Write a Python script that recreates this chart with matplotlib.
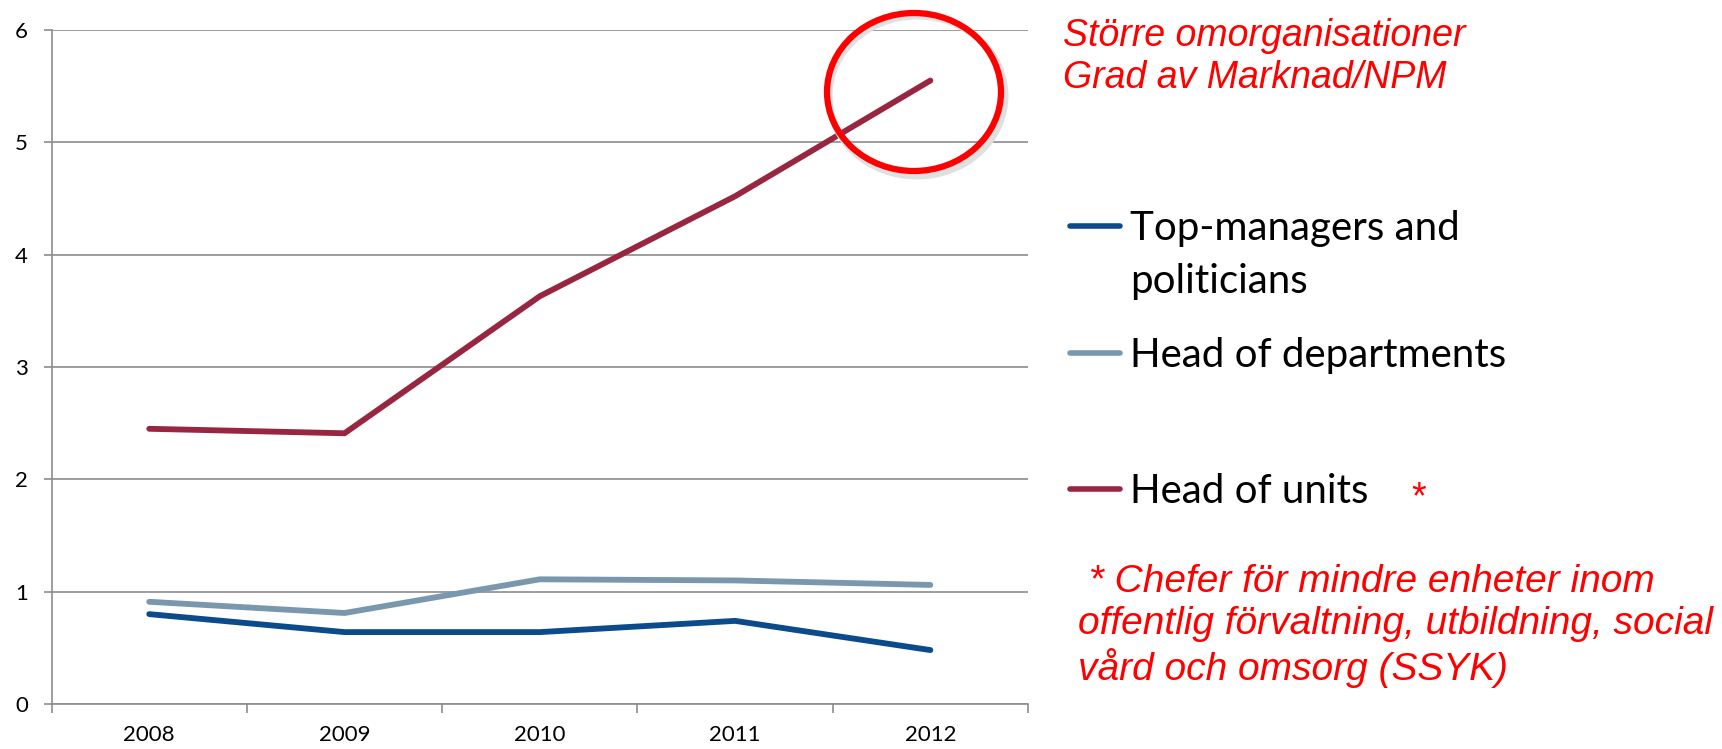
import matplotlib.pyplot as plt
import matplotlib.patheffects as pe
from matplotlib.lines import Line2D
from matplotlib.patches import Ellipse

years = ["2008", "2009", "2010", "2011", "2012"]
top_managers = [0.80, 0.64, 0.64, 0.74, 0.48]
head_departments = [0.91, 0.81, 1.11, 1.10, 1.06]
head_units = [2.45, 2.41, 3.63, 4.52, 5.55]

series_names = ["Top-managers and\npoliticians", "Head of departments", "Head of units"]
colors = ["#0B4A8B", "#7A98AD", "#992641"]
grid_col = "#8C8C8C"

W, H = 1722, 749
fig = plt.figure(figsize=(W / 100, H / 100), dpi=100)
ax = fig.add_axes([51.6 / W, 1 - 704 / H, (1028 - 51.6) / W, (704 - 30) / H])

x = list(range(len(years)))
for vals, c in zip([top_managers, head_departments, head_units], colors):
    ax.plot(x, vals, color=c, lw=4.2, solid_capstyle="round", solid_joinstyle="miter", zorder=3)

ax.set_xlim(-0.5, len(years) - 0.5)
ax.set_ylim(0, 6)
ax.set_yticks(range(0, 7))
ax.yaxis.grid(True, color=grid_col, lw=1.2)
ax.set_axisbelow(True)
for s in ["top", "right"]:
    ax.spines[s].set_visible(False)
for s in ["left", "bottom"]:
    ax.spines[s].set_color(grid_col)
    ax.spines[s].set_linewidth(1.2)

# category ticks sit between years, labels centred on each year
ax.set_xticks([i - 0.5 for i in range(len(years) + 1)])
ax.set_xticklabels([])
ax.set_xticks(x, minor=True)
ax.set_xticklabels(years, minor=True)
ax.tick_params(axis="x", which="major", length=6.5, width=1.2, color=grid_col)
ax.tick_params(axis="x", which="minor", length=0, pad=15)
ax.tick_params(axis="y", length=6, width=1.2, color=grid_col, pad=11)
for lab in ax.get_xticklabels(minor=True) + ax.get_yticklabels():
    lab.set_fontfamily(["Lato", "DejaVu Sans"])
    lab.set_fontsize(16)

# legend drawn by hand to keep the uneven spacing
leg_rows = [226, 353, 489]
for name, c, yy in zip(series_names, colors, leg_rows):
    fy = 1 - yy / H
    fig.add_artist(Line2D([1070 / W, 1120 / W], [fy, fy], color=c, lw=4.0,
                          solid_capstyle="round", transform=fig.transFigure))
    fig.text(1130 / W, fy + 0.0215, name, fontsize=29, family=["Lato", "DejaVu Sans"],
             va="top", ha="left", linespacing=1.55)
fig.text(1419 / W, 1 - 498 / H, "*", color="red", fontsize=27, ha="center", va="center",
         family=["Liberation Sans", "DejaVu Sans"])

# red annotations
red_font = dict(color="red", style="italic", family=["Liberation Sans", "DejaVu Sans"],
                ha="left", va="center", linespacing=1.2)
fig.text(1063 / W, 1 - 57 / H, "Större omorganisationer\nGrad av Marknad/NPM", fontsize=27, **red_font)
fig.text(1078 / W, 1 - 626 / H,
         " * Chefer för mindre enheter inom\noffentlig förvaltning, utbildning, social\nvård och omsorg (SSYK)",
         fontsize=28, **red_font)

# highlight circle around the last point
shadow = Ellipse((917 / W, 1 - 96 / H), 176 / W, 160 / H, transform=fig.transFigure,
                 fill=False, edgecolor="#E0E0E0", lw=5)
fig.add_artist(shadow)
circ = Ellipse((914 / W, 1 - 92 / H), 174 / W, 158 / H, transform=fig.transFigure,
               fill=False, edgecolor="#FF0000", lw=4.5)
fig.add_artist(circ)

# bits of the slide title cut off at the top edge (drawn as paths so the edge clips them)
for tx, ch in [(242, "g"), (460, "y")]:
    fig.text(tx / W, 1 + 17 / H, ch, fontsize=50, family=["Lato", "DejaVu Sans"], va="baseline",
             path_effects=[pe.Normal()])

fig.savefig("out.png", dpi=100)
